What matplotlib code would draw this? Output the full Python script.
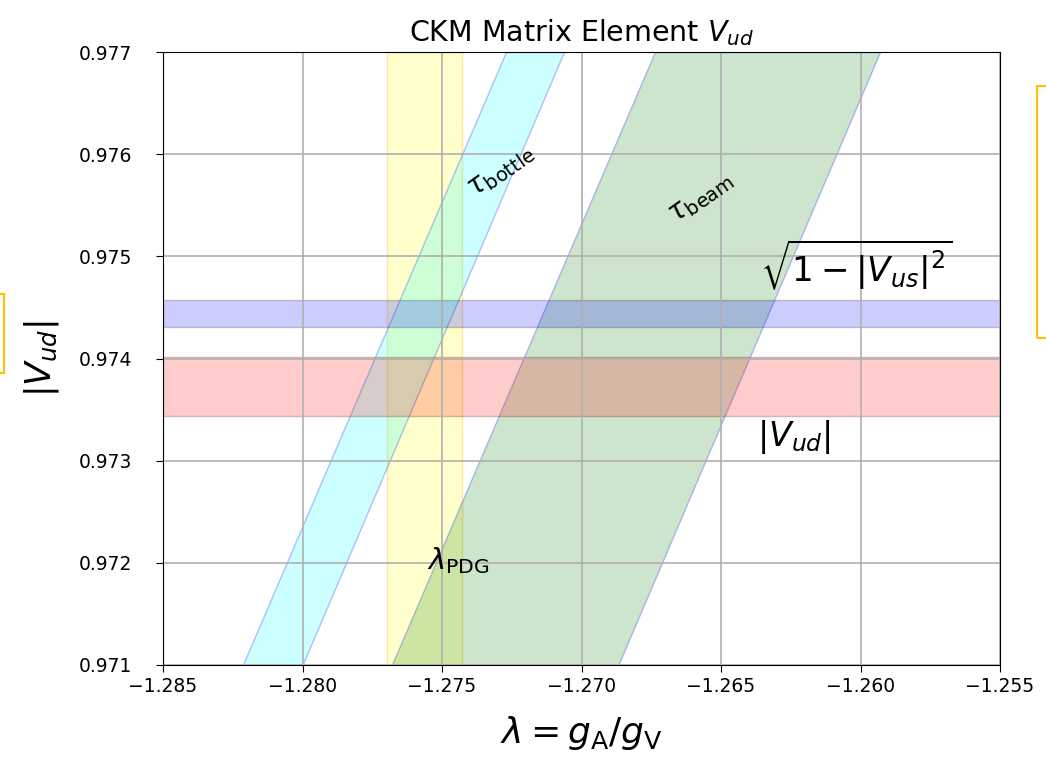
import matplotlib
matplotlib.use("Agg")
import matplotlib.pyplot as plt
from matplotlib.patches import Rectangle

# lambda = gA/gV range and |Vud| range
xlim = (-1.285, -1.255)
ylim = (0.971, 0.977)

# slanted lifetime bands: edge positions in lambda at the bottom / top of the y range
y_ends = [0.971, 0.977]
bottle_left = [-1.28214, -1.27271]
bottle_right = [-1.28000, -1.27063]
beam_left = [-1.27680, -1.26737]
beam_right = [-1.26868, -1.25930]

# PDG lambda band
lam_pdg = (-1.27696, -1.27429)
# unitarity sqrt(1-|Vus|^2) band and superallowed |Vud| band
vus_band = (0.974305, 0.974573)
vud_band = (0.973437, 0.974018)

xticks = [-1.285, -1.280, -1.275, -1.270, -1.265, -1.260, -1.255]
yticks = [0.971, 0.972, 0.973, 0.974, 0.975, 0.976, 0.977]

fig = plt.figure(figsize=(10.46, 7.58), dpi=100)
ax = fig.add_axes([163/1046, 1-665/758, 837/1046, 613/758])

ax.axvspan(lam_pdg[0], lam_pdg[1], facecolor=(1, 1, 0, 0.2), edgecolor=(1, 0.6, 0, 0.25), lw=1)
ax.fill_betweenx(y_ends, bottle_left, bottle_right, facecolor=(0, 1, 1, 0.2),
                 edgecolor=(0, 0, 1, 0.25), lw=1)
ax.fill_betweenx(y_ends, beam_left, beam_right, facecolor=(0, 0.5, 0, 0.2),
                 edgecolor=(0, 0, 1, 0.25), lw=1)
ax.axhspan(vus_band[0], vus_band[1], facecolor=(0, 0, 1, 0.2), edgecolor=(0, 0, 0, 0.2), lw=1)
ax.axhspan(vud_band[0], vud_band[1], facecolor=(1, 0, 0, 0.2), edgecolor=(0.3, 0.1, 0, 0.25), lw=1)

ax.set_xlim(*xlim)
ax.set_ylim(*ylim)
ax.set_xticks(xticks)
ax.set_yticks(yticks)
ax.set_xticklabels([f"{t:.3f}".replace("-", "\u2212") for t in xticks])
ax.set_yticklabels([f"{t:.3f}" for t in yticks])
ax.tick_params(labelsize=13.5, length=5)
ax.tick_params(axis="y", pad=17)
ax.grid(True, color="#b0b0b0", lw=1.2)

ax.text(-1.27289, 0.975845, r"$\tau_{\rm bottle}$", fontsize=20, rotation=35,
        ha="center", va="center")
ax.text(-1.26575, 0.975581, r"$\tau_{\rm beam}$", fontsize=20, rotation=35,
        ha="center", va="center")
ax.text(-1.2636, 0.97465, r"$\sqrt{1-|V_{us}|^2}$", fontsize=24.5, ha="left", va="bottom")
ax.text(-1.2637, 0.97342, r"$|V_{ud}|$", fontsize=24, ha="left", va="top")
ax.text(-1.27554, 0.97202, r"$\lambda_{\rm PDG}$", fontsize=21, ha="left", va="center")

ax.set_title(r"CKM Matrix Element $V_{ud}$", fontsize=20.5, pad=8)
ax.set_xlabel(r"$\lambda = g_{\rm A}/g_{\rm V}$", fontsize=26, labelpad=13)
ax.set_ylabel(r"$|V_{ud}|$", fontsize=25, labelpad=13)

# highlight boxes at the figure edges
fig.patches.append(Rectangle((-10/1046, 1-373/758), 14/1046, 79/758, transform=fig.transFigure,
                             fill=False, edgecolor="#FFC000", lw=1.5))
fig.patches.append(Rectangle((1037/1046, 1-338/758), 30/1046, 252/758, transform=fig.transFigure,
                             fill=False, edgecolor="#FFC000", lw=1.5))

fig.savefig("out.png", dpi=100)
